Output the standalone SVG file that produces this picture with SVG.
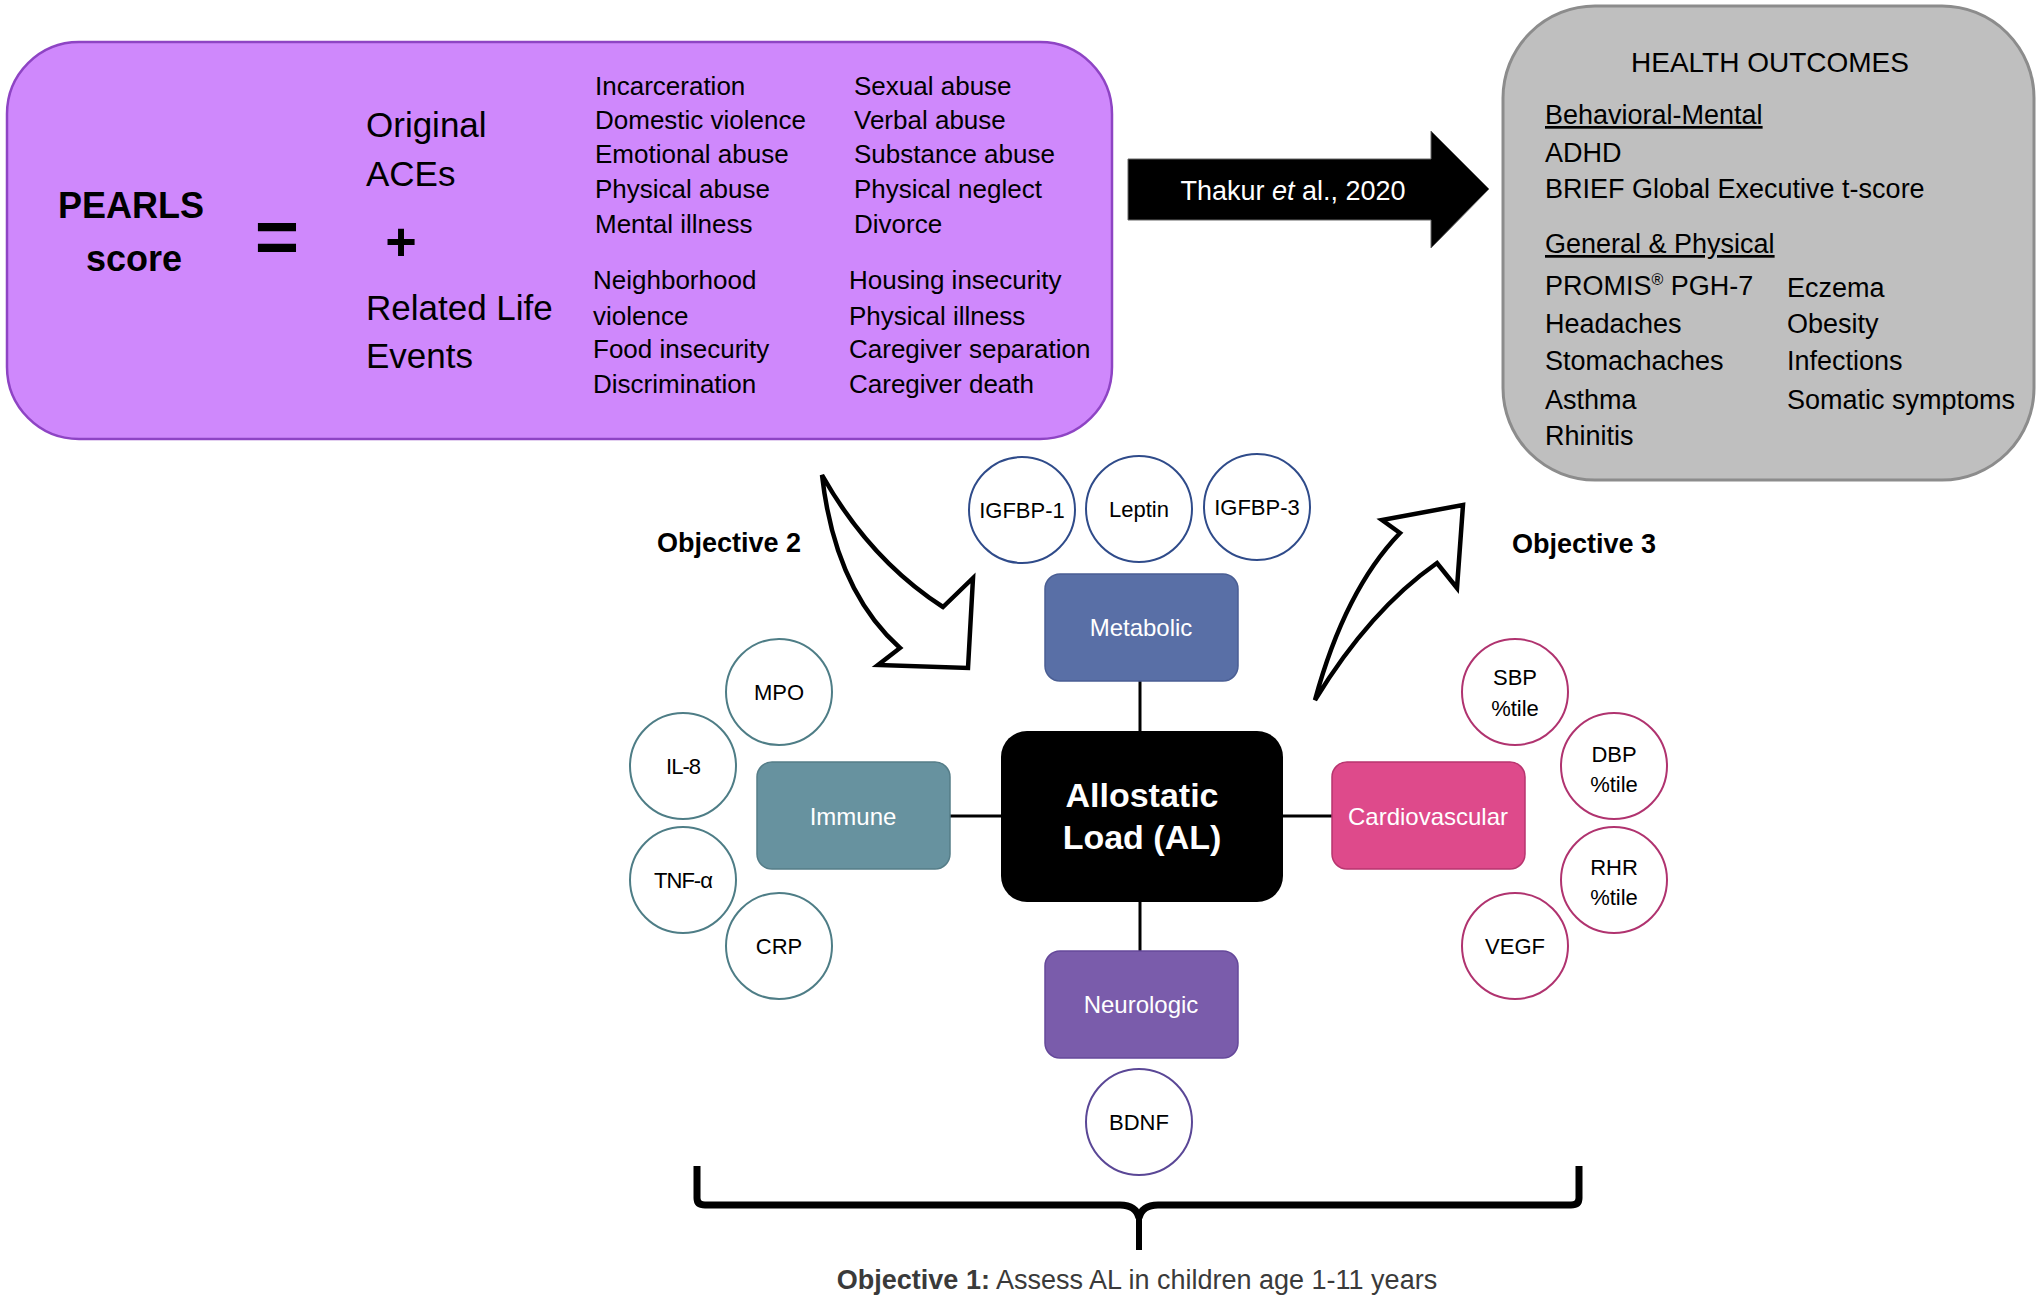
<svg xmlns="http://www.w3.org/2000/svg" width="2040" height="1302" viewBox="0 0 2040 1302">
<style>
  text { font-family: "Liberation Sans", Arial, sans-serif; }
  .lst { font-size: 26px; fill: #000; }
  .ho { font-size: 27px; fill: #000; }
  .big { font-size: 35px; fill: #000; }
  .cat { font-size: 24px; fill: #fff; text-anchor: middle; }
  .bio { font-size: 22px; fill: #000; text-anchor: middle; }
  .obj { font-size: 27px; font-weight: bold; fill: #000; }
  .conn { stroke: #000; stroke-width: 3; fill: none; }
  .circ { fill: #fff; stroke-width: 2; }
  .met { stroke: #2F4B8A; }
  .imm { stroke: #4E7D86; }
  .car { stroke: #B0336F; }
  .neu { stroke: #5A4796; }
  .bigarrow { fill: #fff; stroke: #000; stroke-width: 4.5; stroke-linejoin: miter; }
  .ul { text-decoration: underline; }
</style>

<!-- PEARLS box -->
<g id="pearls">
  <rect x="7" y="42" width="1105" height="397" rx="72" fill="#CF88FC" stroke="#8E44C4" stroke-width="2.5"/>
  <text x="131" y="218" text-anchor="middle" font-size="36" font-weight="bold">PEARLS</text>
  <text x="134" y="271" text-anchor="middle" font-size="36" font-weight="bold">score</text>
  <text x="277" y="263" text-anchor="middle" font-size="76" font-weight="bold">=</text>
  <text x="401" y="260" text-anchor="middle" font-size="54" font-weight="bold">+</text>
  <text class="big" x="366" y="137">Original</text>
  <text class="big" x="366" y="186">ACEs</text>
  <text class="big" x="366" y="320">Related Life</text>
  <text class="big" x="366" y="368">Events</text>
  <text class="lst" x="595" y="95">Incarceration</text>
  <text class="lst" x="595" y="129">Domestic violence</text>
  <text class="lst" x="595" y="163">Emotional abuse</text>
  <text class="lst" x="595" y="198">Physical abuse</text>
  <text class="lst" x="595" y="233">Mental illness</text>
  <text class="lst" x="854" y="95">Sexual abuse</text>
  <text class="lst" x="854" y="129">Verbal abuse</text>
  <text class="lst" x="854" y="163">Substance abuse</text>
  <text class="lst" x="854" y="198">Physical neglect</text>
  <text class="lst" x="854" y="233">Divorce</text>
  <text class="lst" x="593" y="289">Neighborhood</text>
  <text class="lst" x="593" y="325">violence</text>
  <text class="lst" x="593" y="358">Food insecurity</text>
  <text class="lst" x="593" y="393">Discrimination</text>
  <text class="lst" x="849" y="289">Housing insecurity</text>
  <text class="lst" x="849" y="325">Physical illness</text>
  <text class="lst" x="849" y="358">Caregiver separation</text>
  <text class="lst" x="849" y="393">Caregiver death</text>
</g>

<!-- Thakur arrow -->
<g id="thakur-arrow">
  <path d="M1128 159 H1431 V131 L1489 189 L1431 248 V220 H1128 Z" fill="#000" stroke="#666" stroke-width="1"/>
  <text x="1293" y="200" text-anchor="middle" font-size="27" fill="#fff">Thakur <tspan font-style="italic">et</tspan> al., 2020</text>
</g>

<!-- Health outcomes -->
<g id="health-outcomes">
  <rect x="1503" y="6" width="531" height="474" rx="92" fill="#BFBFBF" stroke="#8C8C8C" stroke-width="3"/>
  <text x="1770" y="72" text-anchor="middle" font-size="28">HEALTH OUTCOMES</text>
  <text class="ho ul" x="1545" y="124">Behavioral-Mental</text>
  <text class="ho" x="1545" y="162">ADHD</text>
  <text class="ho" x="1545" y="198">BRIEF Global Executive t-score</text>
  <text class="ho ul" x="1545" y="253">General &amp; Physical</text>
  <text class="ho" x="1545" y="295">PROMIS<tspan font-size="16" dy="-10">®</tspan><tspan dy="10"> PGH-7</tspan></text>
  <text class="ho" x="1545" y="333">Headaches</text>
  <text class="ho" x="1545" y="370">Stomachaches</text>
  <text class="ho" x="1545" y="409">Asthma</text>
  <text class="ho" x="1545" y="445">Rhinitis</text>
  <text class="ho" x="1787" y="297">Eczema</text>
  <text class="ho" x="1787" y="333">Obesity</text>
  <text class="ho" x="1787" y="370">Infections</text>
  <text class="ho" x="1787" y="409">Somatic symptoms</text>
</g>

<!-- Objective arrows -->
<g id="objective2">
  <path class="bigarrow" d="M822 475 Q835 590 900 648 L878 665 L968 668 L973 578 L943 607 Q870 560 822 475 Z"/>
  <text class="obj" x="657" y="552">Objective 2</text>
</g>
<g id="objective3">
  <path class="bigarrow" d="M1315 700 Q1345 590 1400 533 L1382 520 L1463 505 L1457 588 L1437 563 Q1370 610 1315 700 Z"/>
  <text class="obj" x="1512" y="553">Objective 3</text>
</g>

<!-- Connectors -->
<g id="connectors">
  <line class="conn" x1="1140" y1="681" x2="1140" y2="731"/>
  <line class="conn" x1="1140" y1="902" x2="1140" y2="951"/>
  <line class="conn" x1="950" y1="816" x2="1001" y2="816"/>
  <line class="conn" x1="1283" y1="816" x2="1332" y2="816"/>
</g>

<!-- Central node -->
<g id="allostatic-load">
  <rect x="1001" y="731" width="282" height="171" rx="26" fill="#000"/>
  <text x="1142" y="807" text-anchor="middle" font-size="34" font-weight="bold" fill="#fff">Allostatic</text>
  <text x="1142" y="849" text-anchor="middle" font-size="34" font-weight="bold" fill="#fff">Load (AL)</text>
</g>

<!-- Category nodes -->
<g id="metabolic">
  <rect x="1045" y="574" width="193" height="107" rx="15" fill="#596FA6" stroke="#4A5E94" stroke-width="1.5"/>
  <text class="cat" x="1141" y="636">Metabolic</text>
</g>
<g id="immune">
  <rect x="757" y="762" width="193" height="107" rx="15" fill="#67929F" stroke="#557D88" stroke-width="1.5"/>
  <text class="cat" x="853" y="825">Immune</text>
</g>
<g id="cardiovascular">
  <rect x="1332" y="762" width="193" height="107" rx="15" fill="#DE4A8B" stroke="#B8356F" stroke-width="1.5"/>
  <text class="cat" x="1428" y="825">Cardiovascular</text>
</g>
<g id="neurologic">
  <rect x="1045" y="951" width="193" height="107" rx="15" fill="#7A5CAB" stroke="#65489A" stroke-width="1.5"/>
  <text class="cat" x="1141" y="1013">Neurologic</text>
</g>

<!-- Metabolic biomarkers -->
<g id="igfbp1"><circle class="circ met" cx="1022" cy="510" r="53"/><text class="bio" x="1022" y="518">IGFBP-1</text></g>
<g id="leptin"><circle class="circ met" cx="1139" cy="509" r="53"/><text class="bio" x="1139" y="517">Leptin</text></g>
<g id="igfbp3"><circle class="circ met" cx="1257" cy="507" r="53"/><text class="bio" x="1257" y="515">IGFBP-3</text></g>

<!-- Immune biomarkers -->
<g id="mpo"><circle class="circ imm" cx="779" cy="692" r="53"/><text class="bio" x="779" y="700">MPO</text></g>
<g id="il8"><circle class="circ imm" cx="683" cy="766" r="53"/><text class="bio" x="683" y="774" letter-spacing="-1">IL-8</text></g>
<g id="tnfa"><circle class="circ imm" cx="683" cy="880" r="53"/><text class="bio" x="683" y="888" letter-spacing="-1">TNF-α</text></g>
<g id="crp"><circle class="circ imm" cx="779" cy="946" r="53"/><text class="bio" x="779" y="954">CRP</text></g>

<!-- Cardiovascular biomarkers -->
<g id="sbp"><circle class="circ car" cx="1515" cy="692" r="53"/><text class="bio" x="1515" y="685">SBP</text><text class="bio" x="1515" y="716">%tile</text></g>
<g id="dbp"><circle class="circ car" cx="1614" cy="766" r="53"/><text class="bio" x="1614" y="762">DBP</text><text class="bio" x="1614" y="792">%tile</text></g>
<g id="rhr"><circle class="circ car" cx="1614" cy="880" r="53"/><text class="bio" x="1614" y="875">RHR</text><text class="bio" x="1614" y="905">%tile</text></g>
<g id="vegf"><circle class="circ car" cx="1515" cy="946" r="53"/><text class="bio" x="1515" y="954">VEGF</text></g>

<!-- Neurologic biomarker -->
<g id="bdnf"><circle class="circ neu" cx="1139" cy="1122" r="53"/><text class="bio" x="1139" y="1130">BDNF</text></g>

<!-- Brace and Objective 1 -->
<g id="objective1">
  <path d="M697 1166 V1198 Q697 1205 705 1205 H1120 Q1136 1205 1139 1218 Q1142 1205 1158 1205 H1571 Q1579 1205 1579 1198 V1166" fill="none" stroke="#000" stroke-width="7"/>
  <line x1="1139" y1="1212" x2="1139" y2="1250" stroke="#000" stroke-width="6"/>
  <text x="1137" y="1289" text-anchor="middle" font-size="27" fill="#3A3A3A"><tspan font-weight="bold">Objective 1:</tspan> Assess AL in children age 1-11 years</text>
</g>
</svg>
